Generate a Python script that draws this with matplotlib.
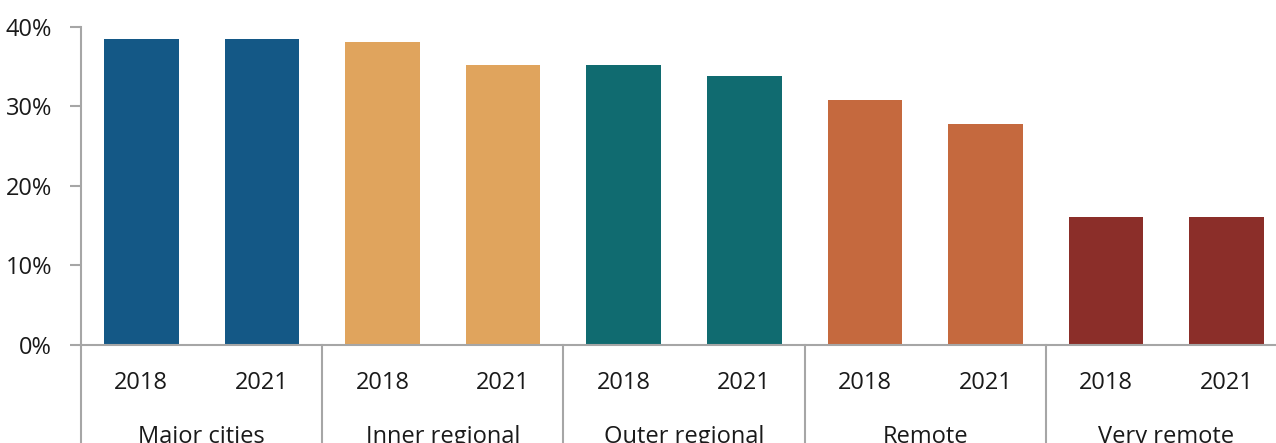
import numpy as np
import matplotlib.pyplot as plt
from matplotlib.ticker import PercentFormatter

plt.rcParams['font.family'] = ['Open Sans', 'DejaVu Sans']

regions = ['Major cities', 'Inner regional', 'Outer regional', 'Remote', 'Very remote']
years = ['2018', '2021']
values_2018 = [38.5, 38.1, 35.2, 30.8, 16.1]
values_2021 = [38.5, 35.2, 33.8, 27.8, 16.1]
colours = ['#145886', '#E0A45D', '#106B70', '#C5693E', '#8B2E29']

axis_grey = '#a6a6a6'

fig = plt.figure(figsize=(12.76, 4.43), dpi=100)
ax = fig.add_axes([81 / 1276, 1 - 344.7 / 443, 1206 / 1276, 317.7 / 443])

heights = []
cols = []
labels = []
for i, region in enumerate(regions):
    heights += [values_2018[i], values_2021[i]]
    cols += [colours[i], colours[i]]
    labels += years
x = np.arange(len(heights))
ax.bar(x, heights, width=0.617, color=cols, zorder=2)

ax.set_xlim(-0.5, len(heights) - 0.5)
ax.set_ylim(0, 40)
ax.set_yticks([0, 10, 20, 30, 40])
ax.yaxis.set_major_formatter(PercentFormatter(decimals=0))
ax.tick_params(axis='y', length=8, width=1.5, color=axis_grey, pad=13,
               labelsize=17, labelcolor='#1a1a1a')
ax.tick_params(axis='x', length=0, labelbottom=False)

for side in ['top', 'right', 'left']:
    ax.spines[side].set_visible(False)
ax.spines['bottom'].set_color(axis_grey)
ax.spines['bottom'].set_linewidth(1.5)

# year labels
for xi, lab in zip(x, labels):
    ax.text(xi, -0.140, lab, transform=ax.get_xaxis_transform(), ha='center',
            va='baseline', fontsize=17, color='#1a1a1a')

# group labels
for i, region in enumerate(regions):
    ax.text(2 * i + 0.5, -0.309, region, transform=ax.get_xaxis_transform(),
            ha='center', va='baseline', fontsize=17, color='#1a1a1a', clip_on=False)

# left axis line running down through the label area, and group separators
ax.plot([-0.5, -0.5], [1, -0.4], transform=ax.get_xaxis_transform(),
        color=axis_grey, lw=1.5, clip_on=False)
for i in range(1, len(regions) + 1):
    ax.plot([2 * i - 0.5] * 2, [0, -0.4], transform=ax.get_xaxis_transform(),
            color=axis_grey, lw=1.5, clip_on=False)

fig.savefig('out.png', dpi=100)
